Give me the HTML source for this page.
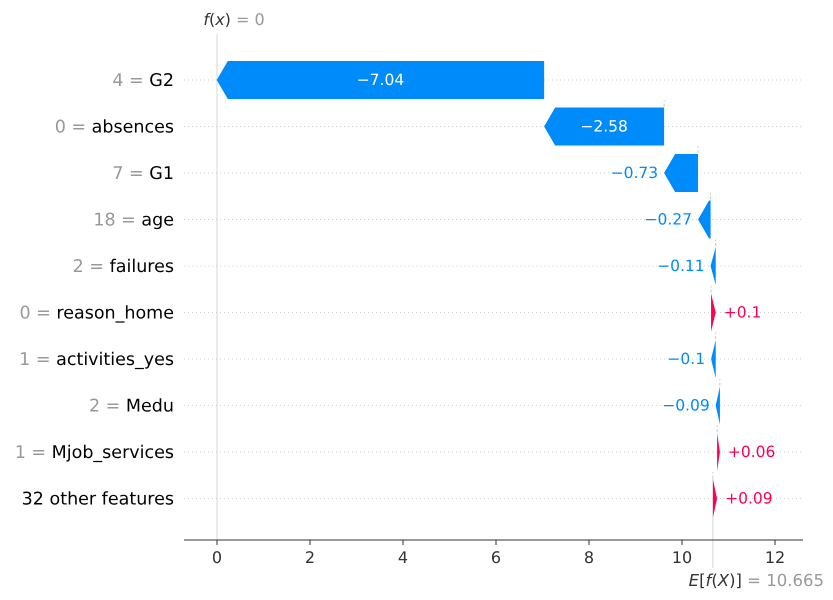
<!DOCTYPE html>
<html><head><meta charset="utf-8"><style>
body{margin:0;background:#fff;}
svg{display:block;font-family:"DejaVu Sans","Liberation Sans",sans-serif;text-rendering:geometricPrecision;}
</style></head><body>
<svg id="chart" width="833" height="600">
<g id="grid"></g>
<g id="conn"></g>
<g id="bars"></g>
<g id="labels"></g>
<g id="axis"></g>
</svg>
<script>
const featureValues=["4","0","7","18","2","0","1","2","1",""];
const featureNames=["G2","absences","G1","age","failures","reason_home","activities_yes","Medu","Mjob_services","32 other features"];
const shapValues=[-7.04,-2.58,-0.73,-0.27,-0.11,0.1,-0.1,-0.09,0.06,0.09];
const valueLabels=["\u22127.04","\u22122.58","\u22120.73","\u22120.27","\u22120.11","+0.1","\u22120.1","\u22120.09","+0.06","+0.09"];
const baseValue=10.665;
const fx=0;
const xTicks=[0,2,4,6,8,10,12];

const NS="http://www.w3.org/2000/svg";
const X=v=>217+v*46.5;
const Y=i=>80+i*46.5;
function mk(tag,attrs,parent,text){const e=document.createElementNS(NS,tag);for(const k in attrs)e.setAttribute(k,attrs[k]);if(text!==undefined)e.textContent=text;parent.appendChild(e);return e;}
const g=document.getElementById('grid'),c=document.getElementById('conn'),b=document.getElementById('bars'),l=document.getElementById('labels'),ax=document.getElementById('axis');
const BLUE="#008bfb",PINK="#ff0051";
const n=shapValues.length;
let ends=new Array(n);let cur=baseValue;
for(let i=n-1;i>=0;i--){const s=cur;cur=cur+shapValues[i];ends[i]=[s,cur];}
let ln=mk('line',{x1:X(fx),x2:X(fx),y1:34,y2:540,stroke:"#ccc","stroke-width":0.8},c);

ln=mk('line',{x1:X(baseValue),x2:X(baseValue),y1:Y(n-1)-20,y2:568,stroke:"#ccc","stroke-width":0.8},c);

for(let i=0;i<n;i++){
  const y=Y(i);
  let gl=mk('line',{x1:184,x2:803,y1:y,y2:y,stroke:"#ccc","stroke-width":1,"stroke-dasharray":"1,3"},g);
  
  const [s,e]=ends[i];const v=shapValues[i];
  if(i>0){let cl=mk('line',{x1:X(s),x2:X(s),y1:y-20,y2:y-46.5+20,stroke:"#bbb","stroke-width":0.8,"stroke-dasharray":"3,2"},c);
    }
  const x0=X(s),x1=X(e),w=Math.abs(x1-x0),h=19,hl=Math.min(11,w),dir=v<0?-1:1;
  const back=x0,tipBase=x1-dir*hl;
  const pts=[[back,y-h],[tipBase,y-h],[x1,y],[tipBase,y+h],[back,y+h]].map(p=>p.join(',')).join(' ');
  const col=v<0?BLUE:PINK;
  let p=mk('polygon',{points:pts,fill:col},b);
  
  
  let t;
  if(w>60){t=mk('text',{x:(x0+x1)/2,y:y+5,fill:"#fff","font-size":15.5,"text-anchor":"middle"},l,valueLabels[i]);}
  else{const lx=v<0?Math.min(x0,x1)-6:Math.max(x0,x1)+8;
    t=mk('text',{x:lx,y:y+5,fill:col,"font-size":15.5,"text-anchor":v<0?"end":"start"},l,valueLabels[i]);}
  
  const ft=mk('text',{x:174,y:y+6,"font-size":17.5,"text-anchor":"end",fill:"#000"},l);
  
  if(featureValues[i]!==""){mk('tspan',{fill:"#999"},ft,featureValues[i]+" = ");}
  mk('tspan',{},ft,featureNames[i]);
}
let al=mk('line',{x1:184,x2:803,y1:540,y2:540,stroke:"#333","stroke-width":1},ax);

xTicks.forEach(v=>{
  let tk=mk('line',{x1:X(v),x2:X(v),y1:540,y2:545,stroke:"#333"},ax);
  
  let tl=mk('text',{x:X(v),y:563,"font-size":16,"text-anchor":"middle",fill:"#333"},ax,String(v));
  
});
let ft=mk('text',{x:X(fx)+17,y:25,"font-size":16,"text-anchor":"middle",fill:"#333"},ax);

mk('tspan',{"font-style":"italic"},ft,"f");mk('tspan',{},ft,"(");mk('tspan',{"font-style":"italic"},ft,"x");mk('tspan',{},ft,")");mk('tspan',{fill:"#999"},ft," = "+fx);
let et=mk('text',{x:824,y:586,"font-size":16.5,"text-anchor":"end",fill:"#333"},ax);

mk('tspan',{"font-style":"italic"},et,"E");mk('tspan',{},et,"[");mk('tspan',{"font-style":"italic"},et,"f");mk('tspan',{},et,"(");mk('tspan',{"font-style":"italic"},et,"X");mk('tspan',{},et,")]");mk('tspan',{fill:"#999"},et," = "+baseValue);
</script>
</body></html>
